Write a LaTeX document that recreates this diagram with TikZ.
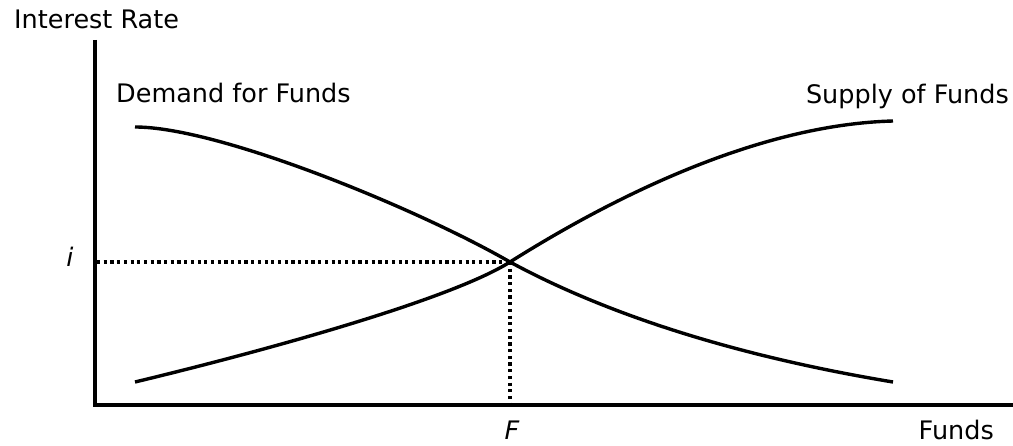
\documentclass[tikz,border=0pt]{standalone}
\usepackage{fontspec}
\setmainfont{DejaVu Sans}
\begin{document}
\begin{tikzpicture}[x=1pt,y=-1pt,
  lbl/.style={inner sep=0pt,font=\fontsize{25.5}{30}\selectfont},
  axis/.style={line width=4.2pt,line join=miter},
  curve/.style={line width=3.4pt,line cap=butt},
  guide/.style={line width=3.2pt,dash pattern=on 3.2pt off 3.5pt}]
\useasboundingbox (0,0) rectangle (1013,446);
% axes
\coordinate (ytop) at (95,40);
\coordinate (orig) at (95,405);
\coordinate (xend) at (1013,405);
\draw[axis] (ytop) -- (orig) -- (xend);
% equilibrium
\coordinate (E) at (510,262);
\coordinate (Ey) at (97,262);
\coordinate (Ex) at (510,403);
\draw[guide] (Ey) -- (E);
\draw[guide] (E) -- (Ex);
% demand
\coordinate (D0) at (135,127);
\coordinate (D1) at (893,382);
\draw[curve] (D0) .. controls (220,127) and (420,210) .. (E)
                  .. controls (580,300) and (700,350) .. (D1);
% supply
\coordinate (S0) at (135,382);
\coordinate (S1) at (893,121);
\draw[curve] (S0) .. controls (260,352) and (450,300) .. (E)
                  .. controls (580,218) and (740,125) .. (S1);
% labels
\node[lbl,anchor=base west] (ylab) at (14,29) {Interest Rate};
\node[lbl,anchor=base west] (dlab) at (116,103) {Demand for Funds};
\node[lbl,anchor=base east] (slab) at (1009,104) {Supply of Funds};
\node[lbl,anchor=base east] (xlab) at (994,440) {Funds};
\node[lbl,anchor=base] (ilab) at (70,267) {\itshape i};
\node[lbl,anchor=base] (flab) at (512,440) {\itshape F};
\end{tikzpicture}
\end{document}
